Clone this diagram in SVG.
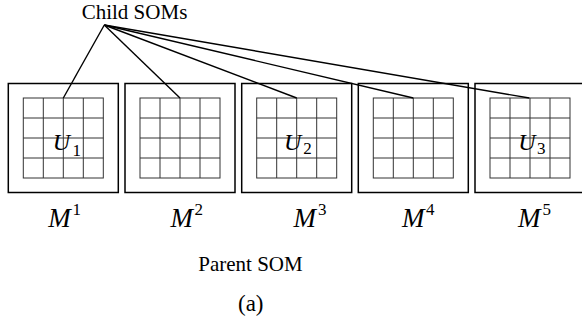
<svg xmlns="http://www.w3.org/2000/svg" width="582" height="324" viewBox="0 0 582 324">
<style>
.box{fill:none;stroke:#000;stroke-width:1.5}
.grid{fill:none;stroke:#333;stroke-width:1}
.conn{stroke:#000;stroke-width:1.4;fill:none}
text{font-family:'Liberation Serif','DejaVu Serif',serif;fill:#000}
.i{font-style:italic}
</style>
<defs>
<g id="som">
<rect class="box" x="0" y="0" width="110" height="109"/>
<rect class="grid" x="15" y="14.5" width="80" height="80"/>
<path class="grid" d="M35 14.5V94.5M55 14.5V94.5M75 14.5V94.5M15 34.5H95M15 54.5H95M15 74.5H95"/>
</g>
</defs>
<text x="81.7" y="18.5" font-size="21">Child SOMs</text>
<g id="m1"><use href="#som" x="8.3" y="83.5"/>
<text class="i" x="52.7" y="150" font-size="24">U</text><text x="72.5" y="156" font-size="17">1</text>
<text class="i" x="48.3" y="226.7" font-size="27">M</text><text x="72.5" y="215" font-size="17">1</text></g>
<g id="m2"><use href="#som" x="125" y="83.5"/>
<text class="i" x="170.5" y="226.7" font-size="27">M</text><text x="194.5" y="215" font-size="17">2</text></g>
<g id="m3"><use href="#som" x="241.7" y="83.5"/>
<text class="i" x="284" y="150" font-size="24">U</text><text x="303.3" y="154" font-size="17">2</text>
<text class="i" x="293.5" y="226.7" font-size="27">M</text><text x="318" y="215" font-size="17">3</text></g>
<g id="m4"><use href="#som" x="358.3" y="83.5"/>
<text class="i" x="402" y="226.7" font-size="27">M</text><text x="426" y="215" font-size="17">4</text></g>
<g id="m5"><use href="#som" x="475" y="83.5"/>
<text class="i" x="518.3" y="150" font-size="24">U</text><text x="537" y="154" font-size="17">3</text>
<text class="i" x="518" y="226.7" font-size="27">M</text><text x="542.5" y="215" font-size="17">5</text></g>
<g id="connectors">
<line class="conn" x1="104.3" y1="25" x2="63.3" y2="98"/>
<line class="conn" x1="104.3" y1="25" x2="180" y2="98"/>
<line class="conn" x1="104.3" y1="25" x2="296.7" y2="98"/>
<line class="conn" x1="104.3" y1="25" x2="413.3" y2="98"/>
<line class="conn" x1="104.3" y1="25" x2="529.3" y2="98"/>
</g>
<text x="198.3" y="270.7" font-size="21">Parent SOM</text>
<text x="238" y="311" font-size="23">(a)</text>
</svg>
